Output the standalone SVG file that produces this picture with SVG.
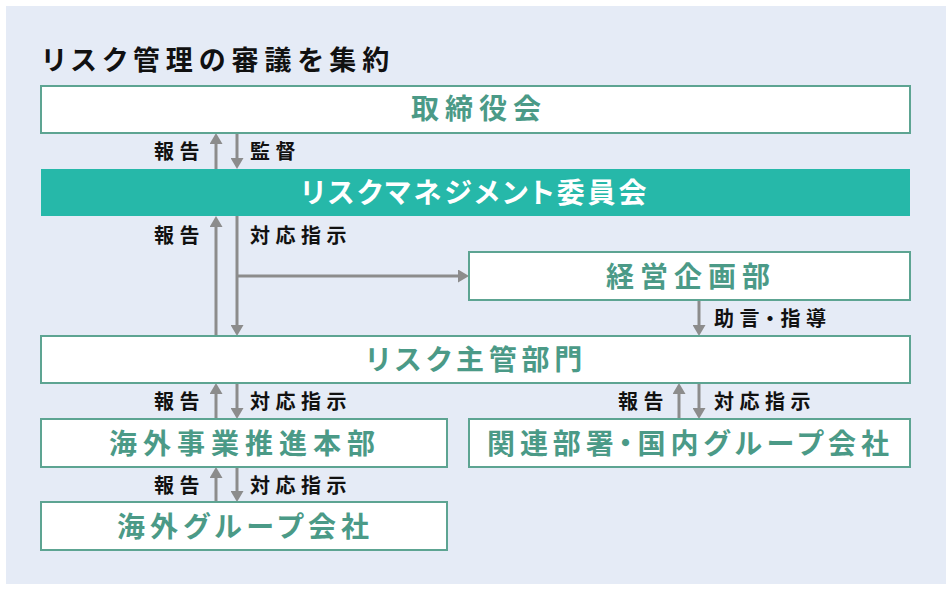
<svg xmlns="http://www.w3.org/2000/svg" width="952" height="592" viewBox="0 0 952 592">
<defs>
<style>
.bg{fill:#E5EBF6}
.box{fill:#FFFFFF;stroke:#5DA492;stroke-width:2}
.boxt{fill:#26B8A9}
text{font-feature-settings:"palt" 1}
.nt{font-family:"Noto Sans CJK JP","Noto Sans CJK SC",sans-serif;font-weight:700;font-size:28px;fill:#4B9A87;letter-spacing:6px}
.nw{fill:#FFFFFF}
.lb{font-family:"Noto Sans CJK JP","Noto Sans CJK SC",sans-serif;font-weight:700;font-size:20px;fill:#111111;letter-spacing:5.5px}
.title{font-family:"Noto Sans CJK JP","Noto Sans CJK SC",sans-serif;font-weight:700;font-size:27px;fill:#111111;letter-spacing:6px}
.ar{stroke:#8C8C8C;stroke-width:3;fill:none;marker-end:url(#ah)}
</style>
<marker id="ah" markerUnits="userSpaceOnUse" viewBox="0 0 11 13" refX="0" refY="6.5" markerWidth="11" markerHeight="13" orient="auto">
<path d="M0,0 L11,6.5 L0,13 Z" fill="#8C8C8C"/>
</marker>
</defs>
<rect class="bg" x="6" y="6" width="940" height="578"/>
<text class="title" x="42" y="70">リスク管理の審議を集約</text>

<g id="connectors">
<line class="ar" x1="216" y1="169" x2="216" y2="144"/>
<line class="ar" x1="237" y1="133" x2="237" y2="158"/>
<line class="ar" x1="216" y1="336" x2="216" y2="227"/>
<line class="ar" x1="237" y1="216" x2="237" y2="325"/>
<line class="ar" x1="237" y1="276" x2="458" y2="276"/>
<line class="ar" x1="699" y1="300" x2="699" y2="325"/>
<line class="ar" x1="216" y1="419" x2="216" y2="394"/>
<line class="ar" x1="237" y1="383" x2="237" y2="408"/>
<line class="ar" x1="679" y1="419" x2="679" y2="394"/>
<line class="ar" x1="699" y1="383" x2="699" y2="408"/>
<line class="ar" x1="216" y1="502" x2="216" y2="478"/>
<line class="ar" x1="237" y1="467" x2="237" y2="491"/>
</g>

<g id="labels">
<text class="lb" x="154" y="159">報告</text>
<text class="lb" x="250" y="159">監督</text>
<text class="lb" x="154" y="243">報告</text>
<text class="lb" x="250" y="243">対応指示</text>
<text class="lb" x="714" y="326">助言・指導</text>
<text class="lb" x="154" y="409">報告</text>
<text class="lb" x="250" y="409">対応指示</text>
<text class="lb" x="618" y="409">報告</text>
<text class="lb" x="714" y="409">対応指示</text>
<text class="lb" x="154" y="493">報告</text>
<text class="lb" x="250" y="493">対応指示</text>
</g>

<g id="n-board">
<rect class="box" x="41" y="86" width="869" height="47"/>
<text class="nt" x="411" y="119">取締役会</text>
</g>
<g id="n-rmc">
<rect class="boxt" x="41" y="169" width="869" height="47"/>
<text class="nt nw" x="301" y="203" style="letter-spacing:2.8px">リスクマネジメント委員会</text>
</g>
<g id="n-plan">
<rect class="box" x="469" y="252" width="441" height="48"/>
<text class="nt" x="606" y="287">経営企画部</text>
</g>
<g id="n-main">
<rect class="box" x="41" y="336" width="869" height="47"/>
<text class="nt" x="366" y="370" style="letter-spacing:4.8px">リスク主管部門</text>
</g>
<g id="n-overseas">
<rect class="box" x="41" y="419" width="406" height="48"/>
<text class="nt" x="109" y="454">海外事業推進本部</text>
</g>
<g id="n-domestic">
<rect class="box" x="469" y="419" width="441" height="48"/>
<text class="nt" x="487" y="454" style="letter-spacing:4.9px">関連部署・国内グループ会社</text>
</g>
<g id="n-ovgroup">
<rect class="box" x="41" y="502" width="406" height="48"/>
<text class="nt" x="117" y="537" style="letter-spacing:5px">海外グループ会社</text>
</g>
</svg>
